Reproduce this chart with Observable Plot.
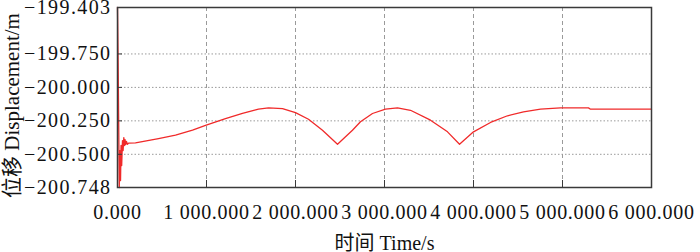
<!DOCTYPE html>
<html>
<head>
<meta charset="utf-8">
<script src="https://cdn.jsdelivr.net/npm/d3@7"></script>
<script src="https://cdn.jsdelivr.net/npm/@observablehq/plot@0.6"></script>
<style>
  html, body { margin: 0; padding: 0; background: #fff; }
  #chart svg, #chart svg text {
    font-family: "Liberation Serif", "Times New Roman", "DejaVu Serif", "Noto Sans CJK SC", serif !important;
  }
  #chart g[aria-label="y-axis tick label"] text { letter-spacing: 1.4px; }
  #chart g[aria-label="x-axis tick label"] text { letter-spacing: 0.7px; }
</style>
</head>
<body>
<div id="chart"></div>
<script>
// Time (s)
const times = [
  0, 7, 13, 20, 27, 34, 40, 47, 56, 63, 71, 79, 85, 93, 101, 112, 124,
  202, 461, 652, 843, 989, 1213, 1404, 1584, 1697, 1854, 2000, 2146, 2303, 2472,
  2640, 2730, 2865, 3011, 3146, 3292, 3517, 3708, 3843,
  4000, 4191, 4382, 4562, 4753, 4978, 5292, 5315, 6000
];
// Displacement (m)
const displacement = [
  -199.403, -199.799, -200.248, -200.748, -200.472, -200.696, -200.434, -200.584,
  -200.397, -200.472, -200.375, -200.434, -200.390, -200.427, -200.404, -200.425, -200.416,
  -200.414, -200.382, -200.357, -200.320, -200.283, -200.233, -200.195, -200.163, -200.153,
  -200.158, -200.188, -200.238, -200.320, -200.425,
  -200.320, -200.257, -200.195, -200.163, -200.153, -200.171, -200.245, -200.332, -200.425,
  -200.332, -200.262, -200.212, -200.183, -200.163, -200.153, -200.153, -200.163, -200.163
];
const xTicks = [0, 1000, 2000, 3000, 4000, 5000, 6000];
const yTicks = [-199.403, -199.75, -200.0, -200.25, -200.5, -200.748];
const xGrid = [1000, 2000, 3000, 4000, 5000];
const yGrid = [-199.75, -200.0, -200.25, -200.5];
const xTitle = "时间 Time/s";
const yTitle = "位移 Displacement/m";

const data = times.map((t, i) => ({t, v: displacement[i]}));
const fmtX = d => d3.format(",.3f")(d).replace(/,/g, " ");
const fmtY = d => "\u2212" + Math.abs(d).toFixed(3);

const chart = Plot.plot({
  width: 700,
  height: 252,
  marginLeft: 117,
  marginRight: 49,
  marginTop: 7,
  marginBottom: 65,
  style: {
    fontSize: "20px",
    color: "#111",
    background: "#fff"
  },
  x: {domain: [0, 6000]},
  y: {domain: [-200.748, -199.403]},
  marks: [
    Plot.ruleX(xGrid, {stroke: "#9a9a9a", strokeWidth: 1, strokeDasharray: "4,3"}),
    Plot.ruleY(yGrid, {stroke: "#9a9a9a", strokeWidth: 1, strokeDasharray: "1.5,2"}),
    Plot.line(data, {x: "t", y: "v", stroke: "#f02a2a", strokeWidth: 1.3}),
    Plot.frame({stroke: "#3a3a3a", strokeWidth: 1.5}),
    Plot.axisX({ticks: xTicks, tickFormat: fmtX, tickSize: -7, tickPadding: 24, label: null, stroke: "#3a3a3a"}),
    Plot.axisY({ticks: yTicks, tickFormat: fmtY, tickSize: -5, tickPadding: 11, label: null, stroke: "#3a3a3a"}),
    Plot.text([xTitle], {frameAnchor: "bottom", textAnchor: "middle", dy: 62, text: d => d, fontSize: 20}),
    Plot.text([yTitle], {frameAnchor: "left", textAnchor: "middle", rotate: -90, dx: -105.5, dy: 8, text: d => d, fontSize: 21})
  ]
});
document.getElementById("chart").appendChild(chart);
</script>
</body>
</html>
